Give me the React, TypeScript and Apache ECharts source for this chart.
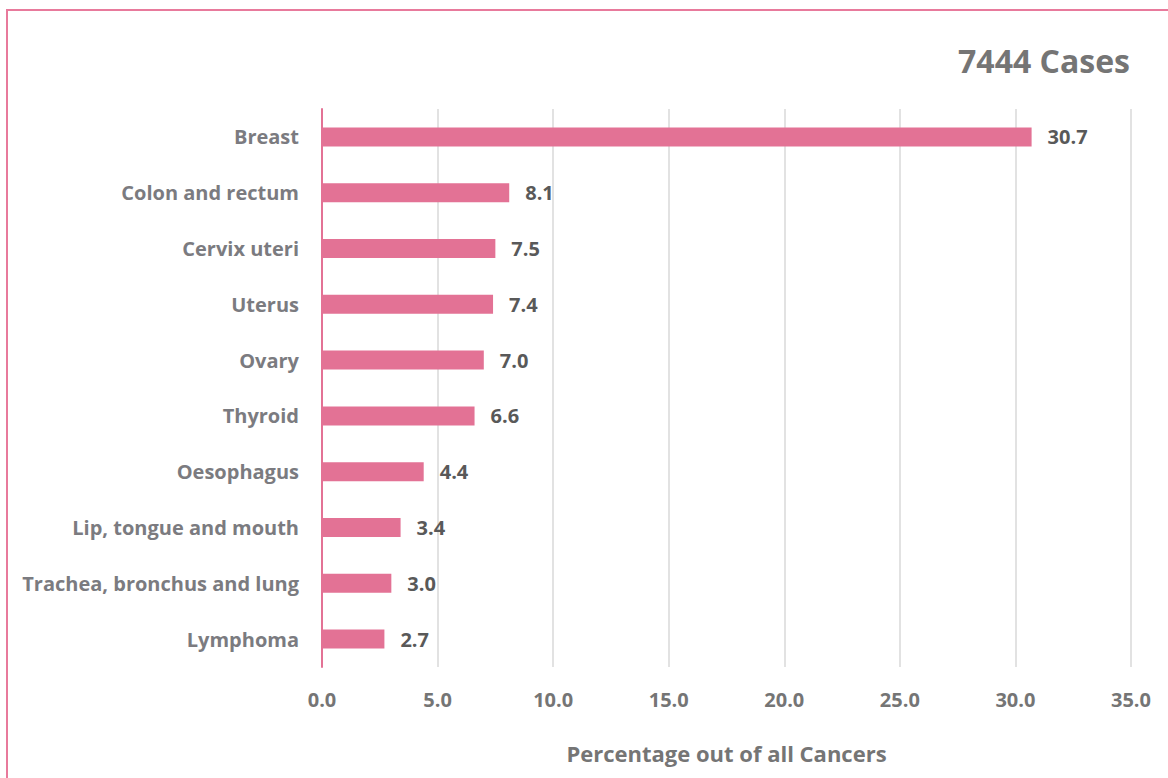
import React, { useEffect, useRef } from "react";
import * as echarts from "echarts";

const categories = [
  "Breast",
  "Colon and rectum",
  "Cervix uteri",
  "Uterus",
  "Ovary",
  "Thyroid",
  "Oesophagus",
  "Lip, tongue and mouth",
  "Trachea, bronchus and lung",
  "Lymphoma",
];
const values = [30.7, 8.1, 7.5, 7.4, 7.0, 6.6, 4.4, 3.4, 3.0, 2.7];
const titleText = "7444 Cases";
const axisTitle = "Percentage out of all Cancers";

const FONT = "Open Sans";
const PINK = "#E37295";

export default function App() {
  const ref = useRef<HTMLDivElement>(null);
  useEffect(() => {
    if (!ref.current) return;
    const chart = echarts.init(ref.current, undefined, { renderer: "svg" });
    chart.setOption({
      animation: false,
      backgroundColor: "#ffffff",
      textStyle: { fontFamily: FONT },
      grid: { left: 322, right: 37, top: 109, bottom: 111, containLabel: false },
      graphic: [
        {
          type: "rect",
          shape: { x: 7, y: 10, width: 1200, height: 800 },
          style: { fill: "none", stroke: "#E87A9C", lineWidth: 2 },
          silent: true,
        },
        {
          type: "text",
          right: 38,
          top: 44,
          style: {
            text: titleText,
            fontFamily: FONT,
            fontSize: 32,
            fontWeight: "bold",
            fill: "#757575",
          },
        },
      ],
      xAxis: {
        type: "value",
        min: 0,
        max: 35,
        interval: 5,
        axisLine: { show: false },
        axisTick: { show: false },
        splitLine: { show: true, lineStyle: { color: "#D9D9D9", width: 1.5 } },
        axisLabel: {
          formatter: (v: number) => v.toFixed(1),
          color: "#757575",
          fontFamily: FONT,
          fontSize: 20,
          fontWeight: "bold",
          margin: 22,
        },
        name: axisTitle,
        nameLocation: "middle",
        nameGap: 75,
        nameTextStyle: {
          color: "#757575",
          fontFamily: FONT,
          fontSize: 22,
          fontWeight: "bold",
        },
      },
      yAxis: {
        type: "category",
        data: categories,
        inverse: true,
        axisLine: { show: true, lineStyle: { color: PINK, width: 2 } },
        axisTick: { show: false },
        splitLine: { show: false },
        axisLabel: {
          color: "#7B7B80",
          fontFamily: FONT,
          fontSize: 20,
          fontWeight: "bold",
          margin: 23,
        },
      },
      series: [
        {
          type: "bar",
          data: values,
          barWidth: 19,
          itemStyle: { color: PINK },
          z: 3,
          label: {
            show: true,
            position: "right",
            distance: 16,
            formatter: (p: any) => p.value.toFixed(1),
            color: "#595959",
            fontFamily: FONT,
            fontSize: 20,
            fontWeight: "bold",
          },
        },
      ],
    });
    return () => chart.dispose();
  }, []);
  return (
    <div
      ref={ref}
      style={{ position: "fixed", left: 0, top: 0, width: 1168, height: 778 }}
    />
  );
}
